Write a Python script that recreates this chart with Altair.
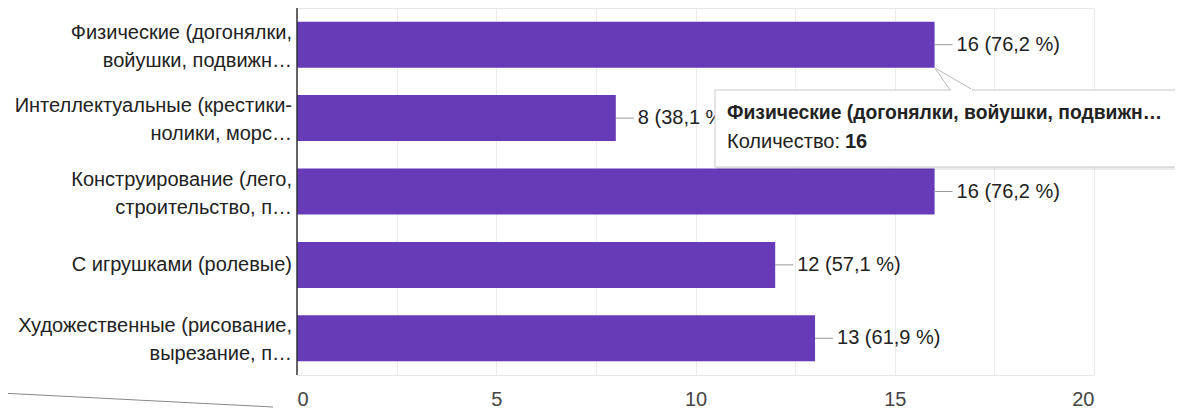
import altair as alt
import pandas as pd

# ---- data ----
cat_line1 = [
    "Физические (догонялки,",
    "Интеллектуальные (крестики-",
    "Конструирование (лего,",
    "С игрушками (ролевые)",
    "Художественные (рисование,",
]
cat_line2 = [
    "войушки, подвижн…",
    "нолики, морс…",
    "строительство, п…",
    "",
    "вырезание, п…",
]
counts = [16, 8, 16, 12, 13]
value_labels = ["16 (76,2 %)", "8 (38,1 %)", "16 (76,2 %)", "12 (57,1 %)", "13 (61,9 %)"]
x_ticks = [0, 2.5, 5, 7.5, 10, 12.5, 15, 17.5, 20]
tooltip_title = "Физические (догонялки, войушки, подвижн…"
tooltip_label = "Количество:"
tooltip_value = "16"

FONT = "Liberation Sans"
BAR = "#673ab7"

df = pd.DataFrame({
    "cat": [a + "|" + b for a, b in zip(cat_line1, cat_line2)],
    "l1": cat_line1, "l2": cat_line2,
    "two": [1 if b else 0 for b in cat_line2],
    "count": counts, "lbl": value_labels,
})
one = pd.DataFrame({"z": [0]})

W, H = 797, 367

x = alt.X(
    "count:Q",
    scale=alt.Scale(domain=[0, 20], nice=False, zero=True),
    axis=alt.Axis(
        values=x_ticks,
        labelExpr="datum.value % 5 == 0 ? datum.label : ''",
        grid=True, gridColor="#ebebeb", gridWidth=1,
        domain=False, ticks=False,
        labelFontSize=20, labelColor="#444", labelFont=FONT,
        labelPadding=14, title=None,
    ),
)
y = alt.Y(
    "cat:N", sort=None, axis=None,
    scale=alt.Scale(paddingInner=0.373, paddingOuter=0.1867),
)
yc = alt.Y("cat:N", sort=None, bandPosition=0.5)

base = alt.Chart(df)

bars = base.mark_bar(color=BAR).encode(x=x, y=y)

leaders = base.mark_rule(color="#999", strokeWidth=1, x2Offset=18).encode(
    x="count:Q", x2="count:Q", y=yc
)

vals = base.mark_text(align="left", baseline="middle", dx=22, fontSize=20,
                      font=FONT, color="#222").encode(
    x="count:Q", y=yc, text="lbl:N"
)

txt = dict(align="right", baseline="middle", fontSize=20, font=FONT, color="#222")
cat_a = base.transform_filter("datum.two == 1").mark_text(dy=-12, **txt).encode(
    x=alt.value(-5), y=yc, text="l1:N")
cat_b = base.transform_filter("datum.two == 1").mark_text(dy=16, **txt).encode(
    x=alt.value(-5), y=yc, text="l2:N")
cat_s = base.transform_filter("datum.two == 0").mark_text(dy=0, **txt).encode(
    x=alt.value(-5), y=yc, text="l1:N")

zero = alt.Chart(one).mark_rule(color="#333", strokeWidth=1.5).encode(
    x=alt.value(0), y=alt.value(0), y2=alt.value(H)
)

# tooltip decoration
tip_box = alt.Chart(one).mark_rect(fill="white", stroke="#c8c8c8", strokeWidth=1).encode(
    x=alt.value(418), x2=alt.value(900), y=alt.value(82), y2=alt.value(159)
)
tip_shadow = alt.Chart(one).mark_rect(fill="#000", opacity=0.08).encode(
    x=alt.value(420), x2=alt.value(900), y=alt.value(84), y2=alt.value(162)
)
ptr1 = alt.Chart(one).mark_rule(color="#bbb", strokeWidth=1).encode(
    x=alt.value(638), y=alt.value(60), x2=alt.value(653), y2=alt.value(82)
)
ptr2 = alt.Chart(one).mark_rule(color="#bbb", strokeWidth=1).encode(
    x=alt.value(638), y=alt.value(60), x2=alt.value(676), y2=alt.value(82)
)
ptr_cover = alt.Chart(one).mark_rule(color="white", strokeWidth=2).encode(
    x=alt.value(654), y=alt.value(82), x2=alt.value(675), y2=alt.value(82)
)
tip_t1 = alt.Chart(one).mark_text(align="left", baseline="middle", fontSize=19.3,
                                  fontWeight="bold", font=FONT, color="#222").encode(
    x=alt.value(430), y=alt.value(105), text=alt.value(tooltip_title)
)
tip_t2 = alt.Chart(one).mark_text(align="left", baseline="middle", fontSize=20,
                                  font=FONT, color="#222").encode(
    x=alt.value(430), y=alt.value(134), text=alt.value(tooltip_label)
)
tip_t3 = alt.Chart(one).mark_text(align="left", baseline="middle", fontSize=20,
                                  fontWeight="bold", font=FONT, color="#222").encode(
    x=alt.value(548), y=alt.value(134), text=alt.value(tooltip_value)
)

diag = alt.Chart(one).mark_rule(color="#888", strokeWidth=1).encode(
    x=alt.value(-297), y=alt.value(385), x2=alt.value(-24), y2=alt.value(399)
)

chart = alt.layer(
    bars, zero, leaders, vals, cat_a, cat_b, cat_s,
    tip_shadow, tip_box, ptr1, ptr2, ptr_cover, tip_t1, tip_t2, tip_t3, diag,
).properties(
    width=W, height=H,
    autosize=alt.AutoSizeParams(type="none"),
    padding={"left": 289, "top": 0, "right": 81, "bottom": 33},
).configure_view(stroke="#e6e6e6", strokeWidth=1)

chart.save("out.html", embed_options={"renderer": "svg", "actions": False})
